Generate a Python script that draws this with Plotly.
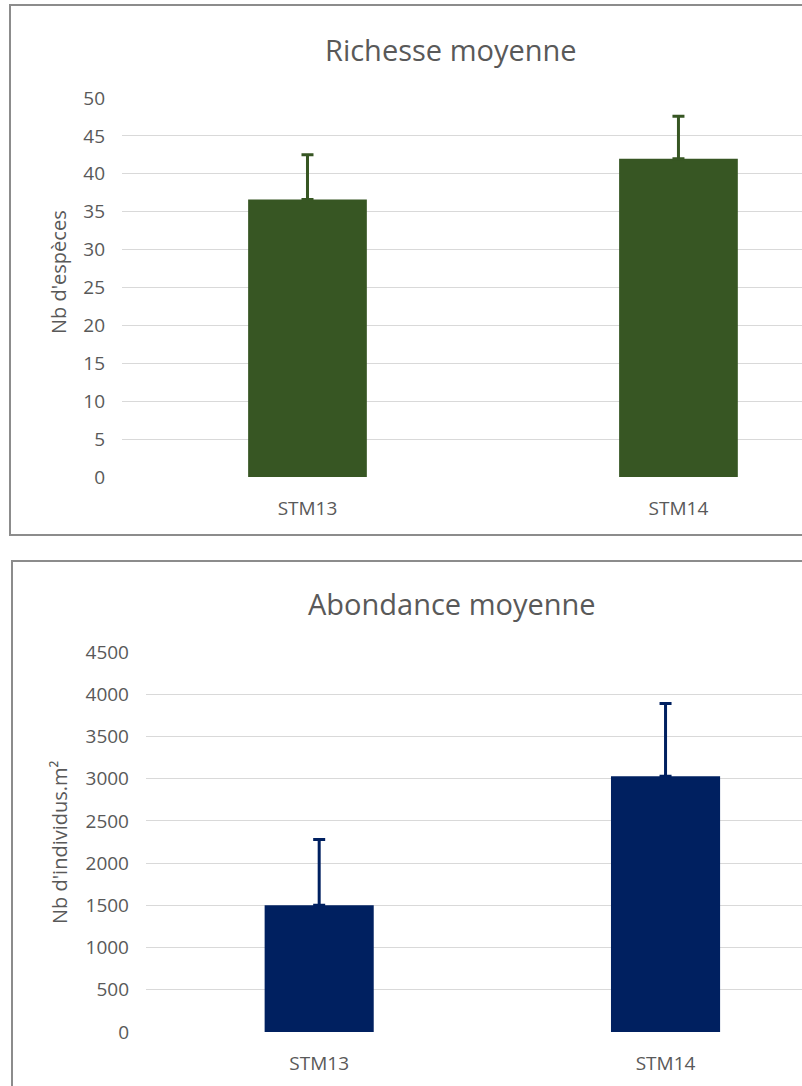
import plotly.graph_objects as go

categories = ["STM13", "STM14"]
richesse = [36.6, 42.0]
richesse_err = [5.9, 5.6]
abondance = [1500, 3030]
abondance_err = [780, 860]

W, H = 802, 1086
FONT = "Open Sans"
GRAY = "#595959"

def px(x):
    return x / W

def py(y):
    return 1 - y / H

fig = go.Figure()
fig.add_trace(go.Bar(
    x=categories, y=richesse, marker_color="#375623", width=0.32,
    error_y=dict(type="data", array=richesse_err, arrayminus=[0, 0], symmetric=False,
                 color="#375623", thickness=3, width=6),
    xaxis="x", yaxis="y", showlegend=False))
fig.add_trace(go.Bar(
    x=categories, y=abondance, marker_color="#002060", width=0.315,
    error_y=dict(type="data", array=abondance_err, arrayminus=[0, 0], symmetric=False,
                 color="#002060", thickness=3, width=6),
    xaxis="x2", yaxis="y2", showlegend=False))

axis_common = dict(showline=False, zeroline=False, ticks="", automargin=False,
                   tickfont=dict(family=FONT, size=19, color=GRAY))
fig.update_layout(
    template="none",
    width=W, height=H, margin=dict(l=0, r=0, t=0, b=0, pad=0, autoexpand=False),
    paper_bgcolor="white", plot_bgcolor="white",
    xaxis=dict(domain=[px(122), 1], range=[-0.5, 1.333], anchor="y",
               showgrid=False, ticklabelstandoff=18, **axis_common),
    yaxis=dict(domain=[py(477), py(98)], range=[0, 50], dtick=5, anchor="x",
               showgrid=True, gridcolor="#d9d9d9", gridwidth=1,
               ticklabelstandoff=16, **axis_common),
    xaxis2=dict(domain=[px(146), 1], range=[-0.5, 1.394], anchor="y2",
                showgrid=False, ticklabelstandoff=18, **axis_common),
    yaxis2=dict(domain=[py(1032), py(652)], range=[0, 4500], dtick=500, anchor="x2",
                showgrid=True, gridcolor="#d9d9d9", gridwidth=1,
                ticklabelstandoff=16, **axis_common),
    shapes=[
        dict(type="rect", xref="paper", yref="paper", x0=px(10), x1=px(812),
             y0=py(535), y1=py(5), line=dict(color="#8c8c8c", width=2), layer="below"),
        dict(type="rect", xref="paper", yref="paper", x0=px(12), x1=px(812),
             y0=py(1092), y1=py(561), line=dict(color="#8c8c8c", width=2), layer="below"),
    ],
    annotations=[
        dict(text="Richesse moyenne", xref="paper", yref="paper", x=px(451), y=py(50),
             xanchor="center", yanchor="middle",
             showarrow=False, font=dict(family=FONT, size=29, color=GRAY)),
        dict(text="Abondance moyenne", xref="paper", yref="paper", x=px(452), y=py(603),
             xanchor="center", yanchor="middle",
             showarrow=False, font=dict(family=FONT, size=29, color=GRAY)),
        dict(text="Nb d'espèces", xref="paper", yref="paper", x=px(58), y=py(272),
             xanchor="center", yanchor="middle",
             textangle=-90, showarrow=False, font=dict(family=FONT, size=20, color=GRAY)),
        dict(text="Nb d'individus.m²", xref="paper", yref="paper", x=px(59), y=py(842),
             xanchor="center", yanchor="middle",
             textangle=-90, showarrow=False, font=dict(family=FONT, size=20, color=GRAY)),
    ],
)
fig.write_html("out.html", config={"displayModeBar": False},
               post_script="document.body.style.margin='0';document.body.style.overflow='hidden';")
